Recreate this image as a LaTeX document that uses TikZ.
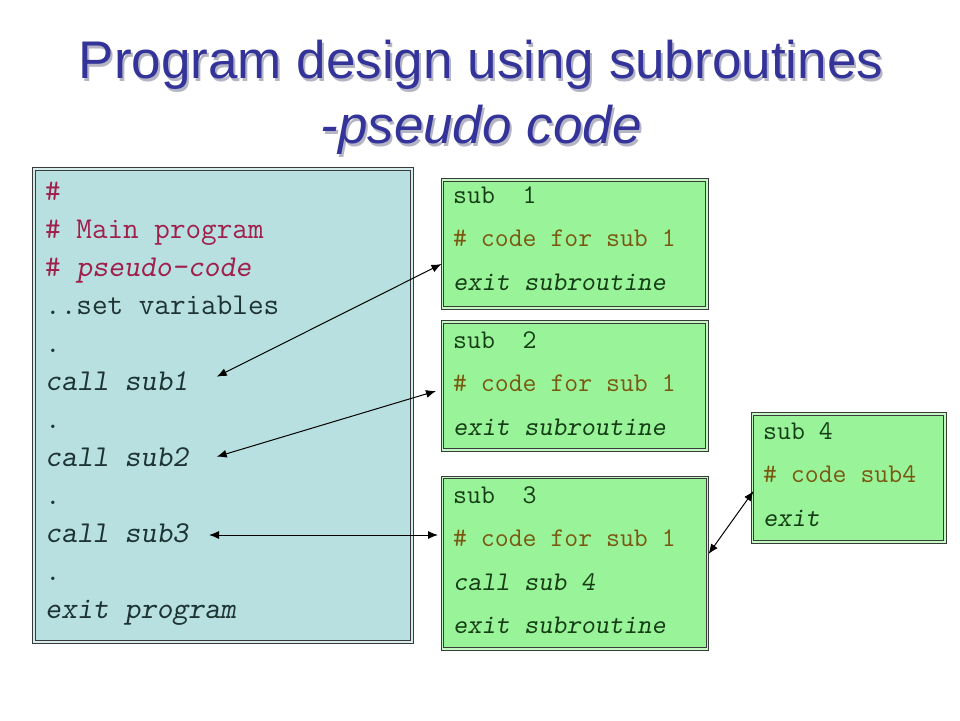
\documentclass[tikz,border=0pt]{standalone}
\usepackage{fontspec}
\setmainfont{Liberation Sans}
\usetikzlibrary{arrows.meta}
\definecolor{titleblue}{HTML}{333399}
\definecolor{titleshadow}{HTML}{B4B4C4}
\definecolor{mainfill}{HTML}{B8E0E0}
\definecolor{subfill}{HTML}{99F399}
\definecolor{maintext}{HTML}{1E3434}
\definecolor{maincomment}{HTML}{A0204C}
\definecolor{subtext}{HTML}{163E16}
\definecolor{subcomment}{HTML}{7A5810}
\definecolor{boxline}{HTML}{3A3A3A}
\newcommand{\shadowed}[1]{\rlap{\hspace{2pt}\raisebox{-3pt}{\color{titleshadow}#1}}#1}
\begin{document}
\begin{tikzpicture}[x=1pt,y=-1pt,
  titletext/.style={font=\fontsize{53}{60}\selectfont, text=titleblue, inner sep=0, anchor=base},
  mainbox/.style={draw=boxline, fill=mainfill, line width=1.1pt, double=mainfill!60!white, double distance=1.6pt, anchor=north west, inner sep=0},
  subbox/.style={draw=boxline, fill=subfill, line width=1.1pt, double=subfill!60!white, double distance=1.6pt, anchor=north west, inner sep=0},
  mline/.style={font=\ttfamily\fontsize{30.3}{34}\selectfont, text=maintext, inner sep=0, anchor=base west},
  mcom/.style={mline, text=maincomment},
  sline/.style={font=\ttfamily\fontsize{27}{31}\selectfont, text=subtext, inner sep=0, anchor=base west},
  scom/.style={sline, text=subcomment},
  conn/.style={{Latex[length=10pt,width=8pt]}-{Latex[length=10pt,width=8pt]}, line width=1pt, black}
]
\useasboundingbox (0,0) rectangle (960,720);
\fill[white] (0,0) rectangle (960,720);

% title
\node[titletext] (t1) at (481,78) {\shadowed{Program design using subroutines}};
\node[titletext] (t2) at (481,143) {\itshape\shadowed{-pseudo code}};

% boxes
\node[mainbox, minimum width=377.6pt, minimum height=472.6pt] (main) at (33.7,168.7) {};
\node[subbox, minimum width=264.3pt, minimum height=128pt] (sub1) at (442,179.3) {};
\node[subbox, minimum width=264.3pt, minimum height=128.4pt] (sub2) at (442,321.3) {};
\node[subbox, minimum width=265pt, minimum height=171.7pt] (sub3) at (442,477) {};
\node[subbox, minimum width=192.7pt, minimum height=127.6pt] (sub4) at (752,413.7) {};

% main program text
\node[mcom] (m1) at (45,200) {\#};
\node[mcom] (m2) at (45,238) {\# Main program};
\node[mcom] (m3) at (45,276) {\# \slshape pseudo-code};
\node[mline] (m4) at (45,314) {..set variables};
\node[mline] (m5) at (45,352) {.};
\node[mline] (m6) at (45,390) {\slshape call sub1};
\node[mline] (m7) at (45,428) {.};
\node[mline] (m8) at (45,466) {\slshape call sub2};
\node[mline] (m9) at (45,504) {.};
\node[mline] (m10) at (45,542) {\slshape call sub3};
\node[mline] (m11) at (45,580) {.};
\node[mline] (m12) at (45,618) {\slshape exit program};

% sub 1
\node[sline] (s1a) at (453,203) {sub~~1};
\node[scom] (s1b) at (453,246.5) {\# code for sub 1};
\node[sline] (s1c) at (453,290) {\slshape exit subroutine};
% sub 2
\node[sline] (s2a) at (453,348) {sub~~2};
\node[scom] (s2b) at (453,391.5) {\# code for sub 1};
\node[sline] (s2c) at (453,435) {\slshape exit subroutine};
% sub 3
\node[sline] (s3a) at (453,503) {sub~~3};
\node[scom] (s3b) at (453,546.5) {\# code for sub 1};
\node[sline] (s3c) at (453,590) {\slshape call sub 4};
\node[sline] (s3d) at (453,633.5) {\slshape exit subroutine};
% sub 4
\node[sline] (s4a) at (763,439) {sub 4};
\node[scom] (s4b) at (763,482.5) {\# code sub4};
\node[sline] (s4c) at (763,526) {\slshape exit};

% connector ends
\coordinate (e1m) at (216.7,376.7);
\coordinate (e1s) at (441.5,264);
\coordinate (e2m) at (216.7,456.7);
\coordinate (e2s) at (436,391);
\coordinate (e3m) at (209,535);
\coordinate (e3s) at (438,535);
\coordinate (e4a) at (708.5,554);
\coordinate (e4b) at (753.5,491);

\draw[conn] (e1m) -- (e1s);
\draw[conn] (e2m) -- (e2s);
\draw[conn] (e3m) -- (e3s);
\draw[conn] (e4a) -- (e4b);
\end{tikzpicture}
\end{document}
